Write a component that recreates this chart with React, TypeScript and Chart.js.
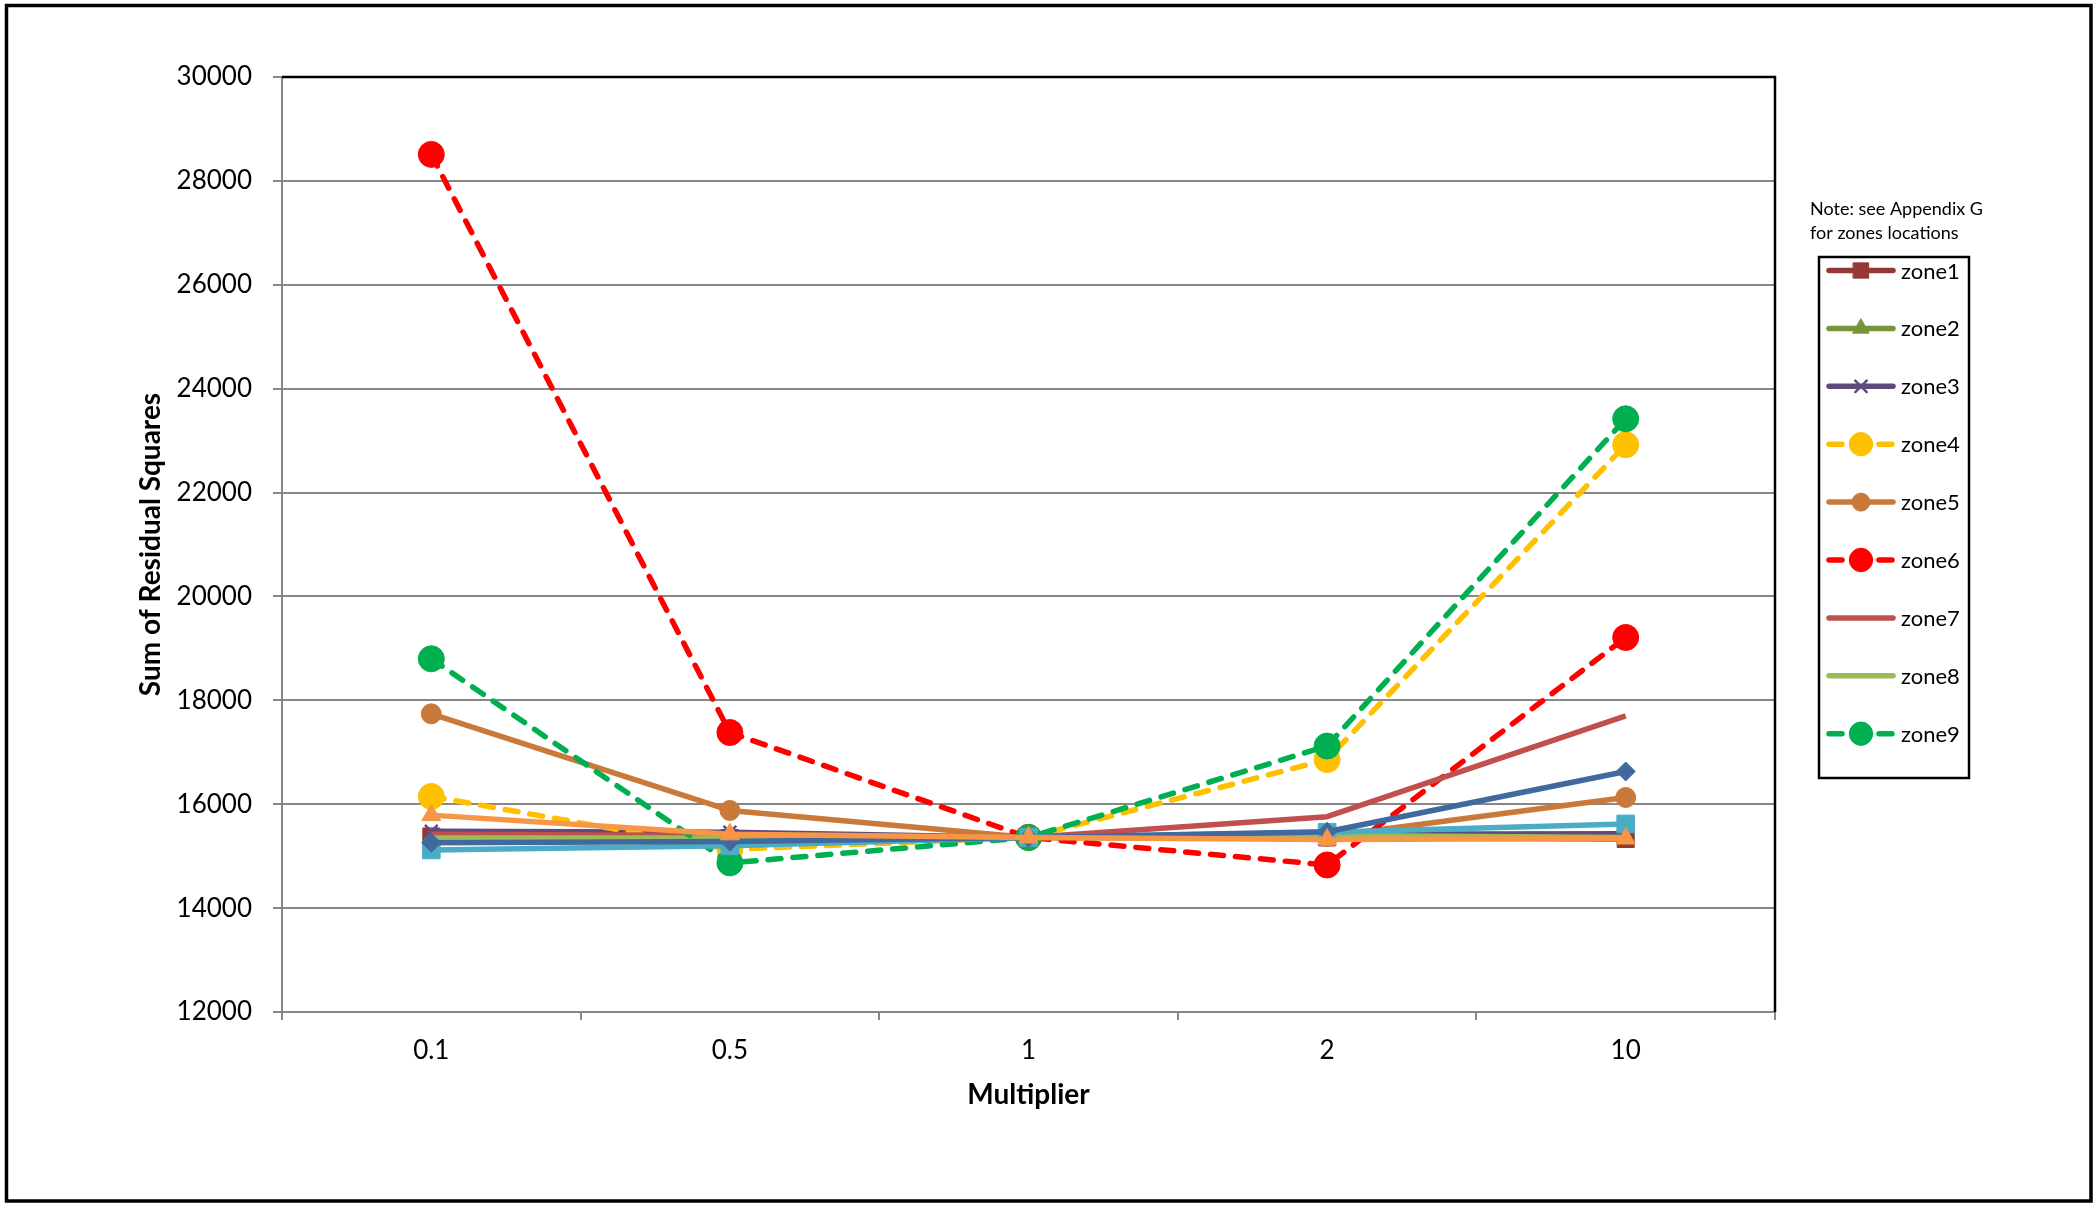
import React, { useEffect, useRef } from 'react';
import { Chart, registerables } from 'chart.js';
import { drawPoint } from 'chart.js/helpers';

Chart.register(...registerables);

const FONT = 'Lato, "Open Sans", sans-serif';

// ---- data ----
const categories = ['0.1', '0.5', '1', '2', '10'];
const zone1 = [15380, 15350, 15360, 15360, 15330];
const zone2 = [15350, 15360, 15360, 15370, 15340];
const zone3 = [15480, 15460, 15360, 15420, 15430];
const zone4 = [16150, 15130, 15360, 16860, 22920];
const zone5 = [17740, 15880, 15360, 15380, 16130];
const zone6 = [28510, 17380, 15360, 14830, 19210];
const zone7 = [15420, 15400, 15360, 15760, 17700];
const zone8 = [15350, 15350, 15360, 15400, 15360];
const zone9 = [18800, 14870, 15360, 17120, 23420];
const zone10 = [15120, 15200, 15360, 15460, 15620];
const zone11 = [15260, 15280, 15360, 15470, 16630];
const zone12 = [15790, 15420, 15360, 15320, 15340];

const seriesNames = ['zone1', 'zone2', 'zone3', 'zone4', 'zone5', 'zone6', 'zone7', 'zone8', 'zone9', 'zone10', 'zone11', 'zone12'];
const seriesValues = [zone1, zone2, zone3, zone4, zone5, zone6, zone7, zone8, zone9, zone10, zone11, zone12];
const legendCount = 9;

const yMin = 12000;
const yMax = 30000;
const yStep = 2000;

const xTitle = 'Multiplier';
const yTitle = 'Sum of Residual Squares';
const noteLines = ['Note: see Appendix G', 'for zones locations'];

// ---- styles ----
const DASH = [13, 12];
const seriesStyles = [
  { color: '#953735', style: 'rect', radius: 12, dash: null },
  { color: '#77933C', style: 'triangle', radius: 10.5, dash: null },
  { color: '#604A7B', style: 'crossRot', radius: 9, dash: null, pbw: 2.5 },
  { color: '#FFC000', style: 'circle', radius: 13, dash: DASH },
  { color: '#C9793A', style: 'circle', radius: 10, dash: null },
  { color: '#FF0000', style: 'circle', radius: 13, dash: DASH },
  { color: '#C0504D', style: 'circle', radius: 0, dash: null },
  { color: '#9BBB59', style: 'circle', radius: 0, dash: null },
  { color: '#00B050', style: 'circle', radius: 13, dash: DASH },
  { color: '#4BACC6', style: 'rect', radius: 12.5, dash: null },
  { color: '#41699E', style: 'rectRot', radius: 9.5, dash: null },
  { color: '#F79646', style: 'triangle', radius: 11, dash: null },
];

const GRAY = '#878787';

const framePlugin = {
  id: 'excelFrame',
  beforeDraw(chart: any) {
    const { ctx, width, height } = chart;
    ctx.save();
    ctx.fillStyle = '#fff';
    ctx.fillRect(0, 0, width, height);
    ctx.strokeStyle = '#000';
    ctx.lineWidth = 3.5;
    ctx.strokeRect(6.5, 5.5, 2091 - 6.5, 1201 - 5.5);
    ctx.restore();
  },
  beforeDatasetsDraw(chart: any) {
    const { ctx, chartArea: a } = chart;
    ctx.save();
    ctx.strokeStyle = '#000';
    ctx.lineWidth = 2.5;
    ctx.beginPath();
    ctx.moveTo(a.left, a.top);
    ctx.lineTo(a.right, a.top);
    ctx.lineTo(a.right, a.bottom);
    ctx.stroke();
    ctx.restore();
  },
  afterDraw(chart: any) {
    const { ctx } = chart;
    ctx.save();
    ctx.fillStyle = '#000';
    ctx.textAlign = 'left';
    ctx.textBaseline = 'middle';
    ctx.font = `18px ${FONT}`;
    noteLines.forEach((t, i) => ctx.fillText(t, 1810, 209 + i * 24));

    ctx.strokeStyle = '#000';
    ctx.lineWidth = 2.5;
    ctx.strokeRect(1819, 257, 150, 521);

    for (let i = 0; i < legendCount; i++) {
      const ds = chart.data.datasets[i];
      const y = 270.5 + i * 57.9;
      ctx.save();
      ctx.beginPath();
      ctx.setLineDash(ds.borderDash || []);
      ctx.lineCap = 'round';
      ctx.lineWidth = ds.borderWidth;
      ctx.strokeStyle = ds.borderColor;
      ctx.moveTo(1829, y);
      ctx.lineTo(1893, y);
      ctx.stroke();
      ctx.setLineDash([]);
      if (ds.pointRadius > 0) {
        ctx.fillStyle = ds.pointBackgroundColor;
        ctx.strokeStyle = ds.pointBorderColor;
        ctx.lineWidth = ds.pointBorderWidth;
        drawPoint(ctx, { pointStyle: ds.pointStyle, radius: ds.pointRadius * 0.9, rotation: 0, borderWidth: ds.pointBorderWidth }, 1861, y);
      }
      ctx.restore();
      ctx.fillStyle = '#000';
      ctx.font = `22px ${FONT}`;
      ctx.fillText(ds.label, 1901, y + 1);
    }
    ctx.restore();
  },
};

export default function App() {
  const ref = useRef<HTMLCanvasElement>(null);

  useEffect(() => {
    document.body.style.margin = '0';
    const canvas = ref.current;
    if (!canvas) return;
    const n = seriesNames.length;
    const datasets = seriesNames.map((name, i) => {
      const s: any = seriesStyles[i];
      return {
        label: name,
        data: seriesValues[i],
        borderColor: s.color,
        backgroundColor: s.color,
        borderWidth: 5.5,
        borderDash: s.dash || [],
        borderCapStyle: s.dash ? 'round' : 'butt',
        borderJoinStyle: 'round',
        pointStyle: s.style,
        pointRadius: s.radius,
        pointHoverRadius: s.radius,
        pointBackgroundColor: s.color,
        pointBorderColor: s.color,
        pointBorderWidth: s.pbw || 1,
        tension: 0,
        fill: false,
        order: n - i,
        clip: false,
      };
    });

    Chart.defaults.color = '#000';
    const chart = new Chart(canvas, {
      type: 'line',
      data: { labels: categories, datasets },
      plugins: [framePlugin],
      options: {
        animation: false,
        responsive: false,
        maintainAspectRatio: false,
        devicePixelRatio: 1,
        layout: { padding: { left: 0, top: 77, right: 324, bottom: 0 } },
        plugins: {
          legend: { display: false },
          tooltip: { enabled: false },
          title: { display: false },
        },
        scales: {
          x: {
            type: 'category',
            offset: true,
            grid: {
              display: true,
              offset: true,
              drawOnChartArea: false,
              drawTicks: true,
              tickLength: 8,
              color: GRAY,
              lineWidth: 2,
            },
            border: { display: true, color: GRAY, width: 2 },
            ticks: { font: { family: FONT, size: 26 }, color: '#000', padding: 15, maxRotation: 0 },
            title: {
              display: true,
              text: xTitle,
              color: '#000',
              font: { family: FONT, size: 28, weight: 'bold' },
              padding: { top: 0, bottom: 94 },
            },
            afterFit: (scale: any) => {
              scale.height = 194;
            },
          },
          y: {
            min: yMin,
            max: yMax,
            ticks: {
              stepSize: yStep,
              font: { family: FONT, size: 26 },
              color: '#000',
              padding: 21,
              callback: (v: any) => String(v),
            },
            grid: {
              color: GRAY,
              lineWidth: 2,
              drawTicks: true,
              tickLength: 9,
            },
            border: { display: true, color: GRAY, width: 2 },
            title: {
              display: true,
              text: yTitle,
              color: '#000',
              font: { family: FONT, size: 28, weight: 'bold' },
              padding: { top: 134, bottom: 0 },
            },
            afterFit: (scale: any) => {
              scale.width = 282;
            },
          },
        },
      } as any,
    });
    return () => chart.destroy();
  }, []);

  return (
    <canvas
      ref={ref}
      width={2099}
      height={1206}
      style={{ position: 'fixed', left: 0, top: 0, width: 2099, height: 1206, display: 'block' }}
    />
  );
}
